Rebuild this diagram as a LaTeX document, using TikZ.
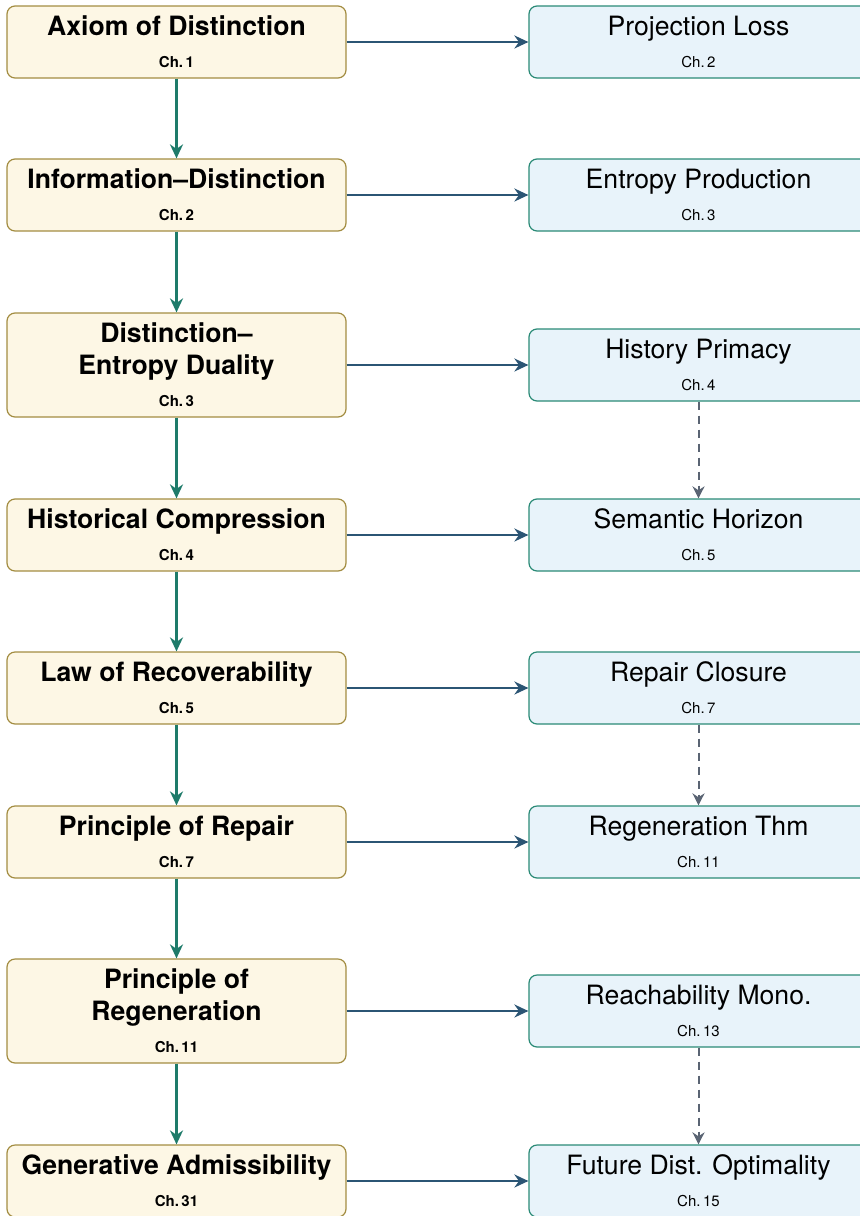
\documentclass[tikz,border=0pt]{standalone}
\usepackage{fontspec}
\setmainfont{TeX Gyre Heros}
\usetikzlibrary{arrows.meta}

\definecolor{lawfill}{RGB}{253,247,229}
\definecolor{lawline}{RGB}{163,141,66}
\definecolor{thmfill}{RGB}{232,243,250}
\definecolor{thmline}{RGB}{42,138,118}
\definecolor{chainarrow}{RGB}{30,123,106}
\definecolor{yieldarrow}{RGB}{43,85,116}
\definecolor{linkarrow}{RGB}{90,100,115}

\newcommand{\titlefont}{\fontsize{13.3}{16}\selectfont}
\newcommand{\chlabel}[1]{{\fontsize{7.5}{9}\selectfont Ch.\,#1}}

\begin{document}
\begin{tikzpicture}[x=0.5pt,y=-0.5pt,
  law/.style={draw=lawline, fill=lawfill, line width=0.6pt, rounded corners=4pt,
    minimum width=169.5pt, minimum height=36pt, inner sep=0pt, align=center,
    font=\titlefont\bfseries},
  tall/.style={minimum height=52pt},
  thm/.style={draw=thmline, fill=thmfill, line width=0.6pt, rounded corners=4pt,
    minimum width=169.5pt, minimum height=36pt, inner sep=0pt, align=center,
    font=\titlefont},
  down/.style={draw=chainarrow, line width=1.1pt, -{Stealth[length=7pt,width=6.5pt]}},
  across/.style={draw=yieldarrow, line width=1.1pt, -{Stealth[length=7pt,width=6.5pt]}},
  follow/.style={draw=linkarrow, line width=1pt, dash pattern=on 4pt off 3pt,
    -{Stealth[length=6pt,width=6pt]}}]
  \clip (0,0) rectangle (860,1216);

  % left column: laws
  \node[law] (axiom) at (176.5,42) {Axiom of Distinction\\\chlabel{1}};
  \node[law] (infodist) at (176.5,195) {Information--Distinction\\\chlabel{2}};
  \node[law,tall] (duality) at (176.5,365) {Distinction--\\Entropy Duality\\\chlabel{3}};
  \node[law] (compress) at (176.5,535) {Historical Compression\\\chlabel{4}};
  \node[law] (recover) at (176.5,688) {Law of Recoverability\\\chlabel{5}};
  \node[law] (repair) at (176.5,842) {Principle of Repair\\\chlabel{7}};
  \node[law,tall] (regen) at (176.5,1011) {Principle of\\Regeneration\\\chlabel{11}};
  \node[law] (genadm) at (176.5,1181) {Generative Admissibility\\\chlabel{31}};

  % right column: theorems
  \node[thm] (projloss) at (698.5,42) {Projection Loss\\\chlabel{2}};
  \node[thm] (entprod) at (698.5,195) {Entropy Production\\\chlabel{3}};
  \node[thm] (histprim) at (698.5,365) {History Primacy\\\chlabel{4}};
  \node[thm] (semhor) at (698.5,535) {Semantic Horizon\\\chlabel{5}};
  \node[thm] (repclos) at (698.5,688) {Repair Closure\\\chlabel{7}};
  \node[thm] (regthm) at (698.5,842) {Regeneration Thm\\\chlabel{11}};
  \node[thm] (reachmono) at (698.5,1011) {Reachability Mono.\\\chlabel{13}};
  \node[thm] (futdist) at (698.5,1181) {Future Dist. Optimality\\\chlabel{15}};

  % chain of laws
  \draw[down] (axiom) -- (infodist);
  \draw[down] (infodist) -- (duality);
  \draw[down] (duality) -- (compress);
  \draw[down] (compress) -- (recover);
  \draw[down] (recover) -- (repair);
  \draw[down] (repair) -- (regen);
  \draw[down] (regen) -- (genadm);

  % law to theorem
  \draw[across] (axiom) -- (projloss);
  \draw[across] (infodist) -- (entprod);
  \draw[across] (duality) -- (histprim);
  \draw[across] (compress) -- (semhor);
  \draw[across] (recover) -- (repclos);
  \draw[across] (repair) -- (regthm);
  \draw[across] (regen) -- (reachmono);
  \draw[across] (genadm) -- (futdist);

  % theorem links
  \draw[follow] (histprim) -- (semhor);
  \draw[follow] (repclos) -- (regthm);
  \draw[follow] (reachmono) -- (futdist);
\end{tikzpicture}
\end{document}
